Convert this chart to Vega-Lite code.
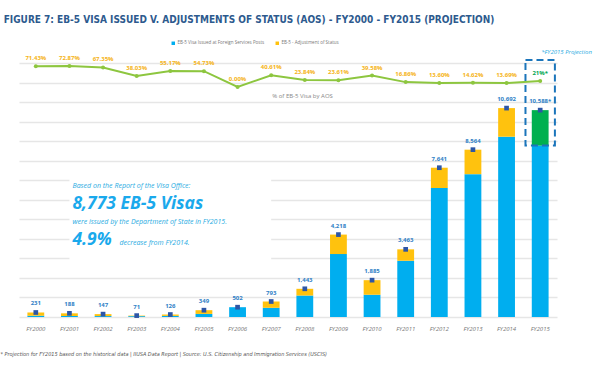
{
  "$schema": "https://vega.github.io/schema/vega-lite/v6.json",
  "width": 538,
  "height": 254,
  "autosize": "none",
  "padding": {"left": 19, "top": 63, "right": 49, "bottom": 55},
  "background": "white",
  "config": {"view": {"stroke": null}, "font": "Open Sans"},
  "title": {
    "text": "FIGURE 7: EB-5 VISA ISSUED V. ADJUSTMENTS OF STATUS (AOS) - FY2000 - FY2015 (PROJECTION)",
    "font": "Liberation Sans Narrow, DejaVu Sans Condensed, sans-serif",
    "fontSize": 10,
    "fontWeight": "bold",
    "color": "#2D5A8E",
    "anchor": "middle",
    "frame": "group",
    "offset": 16,
    "dx": -39
  },
  "datasets": {
    "stack": [
      {"year": "FY2000", "series": "FS", "ord": 1, "value": 66},
      {"year": "FY2000", "series": "AOS", "ord": 2, "value": 165},
      {"year": "FY2001", "series": "FS", "ord": 1, "value": 51},
      {"year": "FY2001", "series": "AOS", "ord": 2, "value": 137},
      {"year": "FY2002", "series": "FS", "ord": 1, "value": 48},
      {"year": "FY2002", "series": "AOS", "ord": 2, "value": 99},
      {"year": "FY2003", "series": "FS", "ord": 1, "value": 44},
      {"year": "FY2003", "series": "AOS", "ord": 2, "value": 27},
      {"year": "FY2004", "series": "FS", "ord": 1, "value": 56},
      {"year": "FY2004", "series": "AOS", "ord": 2, "value": 70},
      {"year": "FY2005", "series": "FS", "ord": 1, "value": 158},
      {"year": "FY2005", "series": "AOS", "ord": 2, "value": 191},
      {"year": "FY2006", "series": "FS", "ord": 1, "value": 502},
      {"year": "FY2006", "series": "AOS", "ord": 2, "value": 0},
      {"year": "FY2007", "series": "FS", "ord": 1, "value": 471},
      {"year": "FY2007", "series": "AOS", "ord": 2, "value": 322},
      {"year": "FY2008", "series": "FS", "ord": 1, "value": 1099},
      {"year": "FY2008", "series": "AOS", "ord": 2, "value": 344},
      {"year": "FY2009", "series": "FS", "ord": 1, "value": 3222},
      {"year": "FY2009", "series": "AOS", "ord": 2, "value": 996},
      {"year": "FY2010", "series": "FS", "ord": 1, "value": 1139},
      {"year": "FY2010", "series": "AOS", "ord": 2, "value": 746},
      {"year": "FY2011", "series": "FS", "ord": 1, "value": 2879},
      {"year": "FY2011", "series": "AOS", "ord": 2, "value": 584},
      {"year": "FY2012", "series": "FS", "ord": 1, "value": 6602},
      {"year": "FY2012", "series": "AOS", "ord": 2, "value": 1039},
      {"year": "FY2013", "series": "FS", "ord": 1, "value": 7312},
      {"year": "FY2013", "series": "AOS", "ord": 2, "value": 1252},
      {"year": "FY2014", "series": "FS", "ord": 1, "value": 9228},
      {"year": "FY2014", "series": "AOS", "ord": 2, "value": 1464},
      {"year": "FY2015", "series": "FS", "ord": 1, "value": 8773},
      {"year": "FY2015", "series": "Proj", "ord": 3, "value": 1815}
    ],
    "totals": [
      {"year": "FY2000", "total": 231, "label": "231", "pct": 71.43, "pctLabel": "71.43%"},
      {"year": "FY2001", "total": 188, "label": "188", "pct": 72.87, "pctLabel": "72.87%"},
      {"year": "FY2002", "total": 147, "label": "147", "pct": 67.35, "pctLabel": "67.35%"},
      {"year": "FY2003", "total": 71, "label": "71", "pct": 38.03, "pctLabel": "38.03%"},
      {"year": "FY2004", "total": 126, "label": "126", "pct": 55.17, "pctLabel": "55.17%"},
      {"year": "FY2005", "total": 349, "label": "349", "pct": 54.73, "pctLabel": "54.73%"},
      {"year": "FY2006", "total": 502, "label": "502", "pct": 0.0, "pctLabel": "0.00%"},
      {"year": "FY2007", "total": 793, "label": "793", "pct": 40.61, "pctLabel": "40.61%"},
      {"year": "FY2008", "total": 1443, "label": "1,443", "pct": 23.84, "pctLabel": "23.84%"},
      {"year": "FY2009", "total": 4218, "label": "4,218", "pct": 23.61, "pctLabel": "23.61%"},
      {"year": "FY2010", "total": 1885, "label": "1,885", "pct": 39.58, "pctLabel": "39.58%"},
      {"year": "FY2011", "total": 3463, "label": "3,463", "pct": 16.86, "pctLabel": "16.86%"},
      {"year": "FY2012", "total": 7641, "label": "7,641", "pct": 13.6, "pctLabel": "13.60%"},
      {"year": "FY2013", "total": 8564, "label": "8,564", "pct": 14.62, "pctLabel": "14.62%"},
      {"year": "FY2014", "total": 10692, "label": "10,692", "pct": 13.69, "pctLabel": "13.69%"},
      {"year": "FY2015", "total": 10588, "label": "10,588*", "pct": 21, "pctLabel": "21%*"}
    ]
  },
  "layer": [
    {
      "data": {"name": "stack"},
      "mark": {"type": "bar"},
      "encoding": {
        "x": {
          "field": "year",
          "type": "ordinal",
          "scale": {"paddingInner": 0.5, "paddingOuter": 0.25},
          "axis": {
            "labelAngle": 0,
            "labelFont": "Open Sans",
            "labelFontStyle": "italic",
            "labelFontSize": 6,
            "labelColor": "#777777",
            "labelPadding": 8,
            "domain": false,
            "ticks": false,
            "title": "* Projection for FY2015 based on the historical data | IIUSA Data Report | Source: U.S. Citizenship and Immigration Services (USCIS)",
            "titleFont": "Liberation Sans Narrow, DejaVu Sans Condensed, sans-serif",
            "titleFontStyle": "italic",
            "titleFontWeight": "normal",
            "titleFontSize": 5.5,
            "titleColor": "#555555",
            "titleX": -19,
            "titleY": 36,
            "titleAlign": "left",
            "titleBaseline": "middle"
          }
        },
        "y": {
          "field": "value",
          "type": "quantitative",
          "stack": "zero",
          "scale": {"domain": [0, 13000], "nice": false},
          "axis": {
            "values": [0, 1000, 2000, 3000, 4000, 5000, 6000, 7000, 8000, 9000, 10000, 11000, 12000, 13000],
            "grid": true,
            "gridColor": "#e6e6e6",
            "gridWidth": 1.5,
            "labels": false,
            "ticks": false,
            "domain": false,
            "title": null
          }
        },
        "color": {
          "field": "series",
          "type": "nominal",
          "scale": {"domain": ["FS", "AOS", "Proj"], "range": ["#00AEEF", "#FFC20E", "#00B04F"]},
          "legend": {
            "values": ["FS", "AOS"],
            "labelExpr": "datum.label == 'FS' ? 'EB-5 Visa Issued at Foreign Services Posts' : 'EB-5 - Adjustment of Status'",
            "orient": "none",
            "legendX": 152,
            "legendY": -22,
            "direction": "horizontal",
            "title": null,
            "symbolType": "square",
            "symbolSize": 12,
            "symbolStrokeWidth": 0,
            "labelFontSize": 4.5,
            "labelColor": "#777777",
            "labelOffset": 2,
            "columnPadding": 10
          }
        },
        "order": {"field": "ord", "type": "quantitative"}
      }
    },
    {
      "data": {"values": [{"note": "text panel"}]},
      "mark": {"type": "rect", "fill": "white"},
      "encoding": {
        "x": {"datum": "FY2001", "type": "ordinal"},
        "x2": {"datum": "FY2007"},
        "y": {"datum": 2508, "type": "quantitative", "scale": {"domain": [0, 13000], "nice": false}, "axis": null},
        "y2": {"datum": 7524}
      }
    },
    {
      "data": {"values": [{"note": "FY2015 projection box"}]},
      "mark": {"type": "bar", "width": {"band": 1.75}, "fill": "transparent", "stroke": "#1B75BB", "strokeWidth": 2, "strokeDash": [7, 4]},
      "encoding": {
        "x": {"datum": "FY2015", "type": "ordinal"},
        "y": {"datum": 8773, "type": "quantitative", "scale": {"domain": [0, 13000], "nice": false}, "axis": null},
        "y2": {"datum": 13154}
      }
    },
    {
      "data": {"name": "totals"},
      "mark": {"type": "square", "size": 22, "opacity": 1, "color": "#2D56A6"},
      "encoding": {
        "x": {"field": "year", "type": "ordinal"},
        "y": {"field": "total", "type": "quantitative", "scale": {"domain": [0, 13000], "nice": false}, "axis": null}
      }
    },
    {
      "data": {"name": "totals"},
      "mark": {"type": "text", "dy": -9, "fontSize": 6, "fontWeight": "bold", "color": "#2F7FC6", "baseline": "middle"},
      "encoding": {
        "x": {"field": "year", "type": "ordinal"},
        "y": {"field": "total", "type": "quantitative", "scale": {"domain": [0, 13000], "nice": false}, "axis": null},
        "text": {"field": "label"}
      }
    },
    {
      "data": {"values": [{"text": "Based on the Report of the Visa Office:"}]},
      "mark": {"type": "text", "align": "left", "baseline": "middle", "dx": 3, "fontSize": 7, "fontStyle": "italic", "color": "#29ABE2"},
      "encoding": {
        "x": {"datum": "FY2001", "type": "ordinal"},
        "y": {"datum": 6700, "type": "quantitative", "scale": {"domain": [0, 13000], "nice": false}, "axis": null},
        "text": {"field": "text"}
      }
    },
    {
      "data": {"values": [{"text": "8,773 EB-5 Visas"}]},
      "mark": {"type": "text", "align": "left", "baseline": "middle", "dx": 3, "fontSize": 17.5, "fontStyle": "italic", "fontWeight": "bold", "color": "#1AA9EC"},
      "encoding": {
        "x": {"datum": "FY2001", "type": "ordinal"},
        "y": {"datum": 5780, "type": "quantitative", "scale": {"domain": [0, 13000], "nice": false}, "axis": null},
        "text": {"field": "text"}
      }
    },
    {
      "data": {"values": [{"text": "were issued by the Department of State in FY2015."}]},
      "mark": {"type": "text", "align": "left", "baseline": "middle", "dx": 3, "fontSize": 7, "fontStyle": "italic", "color": "#29ABE2"},
      "encoding": {
        "x": {"datum": "FY2001", "type": "ordinal"},
        "y": {"datum": 4862, "type": "quantitative", "scale": {"domain": [0, 13000], "nice": false}, "axis": null},
        "text": {"field": "text"}
      }
    },
    {
      "data": {"values": [{"text": "4.9%"}]},
      "mark": {"type": "text", "align": "left", "baseline": "middle", "dx": 3, "fontSize": 17.5, "fontStyle": "italic", "fontWeight": "bold", "color": "#1AA9EC"},
      "encoding": {
        "x": {"datum": "FY2001", "type": "ordinal"},
        "y": {"datum": 3960, "type": "quantitative", "scale": {"domain": [0, 13000], "nice": false}, "axis": null},
        "text": {"field": "text"}
      }
    },
    {
      "data": {"values": [{"text": "decrease from FY2014."}]},
      "mark": {"type": "text", "align": "left", "baseline": "middle", "dx": 50, "fontSize": 7, "fontStyle": "italic", "color": "#29ABE2"},
      "encoding": {
        "x": {"datum": "FY2001", "type": "ordinal"},
        "y": {"datum": 3803, "type": "quantitative", "scale": {"domain": [0, 13000], "nice": false}, "axis": null},
        "text": {"field": "text"}
      }
    },
    {
      "data": {"values": [{"text": "% of EB-5 Visa by AOS"}]},
      "mark": {"type": "text", "align": "left", "baseline": "middle", "dx": 1, "fontSize": 6, "color": "#888888"},
      "encoding": {
        "x": {"datum": "FY2007", "type": "ordinal"},
        "y": {"datum": 11311, "type": "quantitative", "scale": {"domain": [0, 13000], "nice": false}, "axis": null},
        "text": {"field": "text"}
      }
    },
    {
      "data": {"values": [{"text": "*FY2015 Projection"}]},
      "mark": {"type": "text", "align": "left", "baseline": "middle", "dx": 1, "fontSize": 6, "fontStyle": "italic", "color": "#29ABE2"},
      "encoding": {
        "x": {"datum": "FY2015", "type": "ordinal"},
        "y": {"datum": 13563, "type": "quantitative", "scale": {"domain": [0, 13000], "nice": false}, "axis": null},
        "text": {"field": "text"}
      }
    },
    {
      "data": {"name": "totals"},
      "mark": {"type": "line", "color": "#8DC63F", "strokeWidth": 2},
      "encoding": {
        "x": {"field": "year", "type": "ordinal"},
        "y": {"field": "pct", "type": "quantitative", "scale": {"domain": [-793, 82.8], "nice": false, "zero": false}, "axis": null}
      }
    },
    {
      "data": {"name": "totals"},
      "mark": {"type": "circle", "size": 16, "opacity": 1, "color": "#8DC63F"},
      "encoding": {
        "x": {"field": "year", "type": "ordinal"},
        "y": {"field": "pct", "type": "quantitative", "scale": {"domain": [-793, 82.8], "nice": false, "zero": false}, "axis": null}
      }
    },
    {
      "data": {"name": "totals"},
      "mark": {"type": "text", "dy": -8, "fontSize": 6, "fontWeight": "bold", "baseline": "middle"},
      "encoding": {
        "x": {"field": "year", "type": "ordinal"},
        "y": {"field": "pct", "type": "quantitative", "scale": {"domain": [-793, 82.8], "nice": false, "zero": false}, "axis": null},
        "text": {"field": "pctLabel"},
        "color": {"condition": {"test": "datum.year === 'FY2015'", "value": "#00A651"}, "value": "#F5B316"}
      }
    }
  ],
  "resolve": {"scale": {"y": "independent"}}
}
